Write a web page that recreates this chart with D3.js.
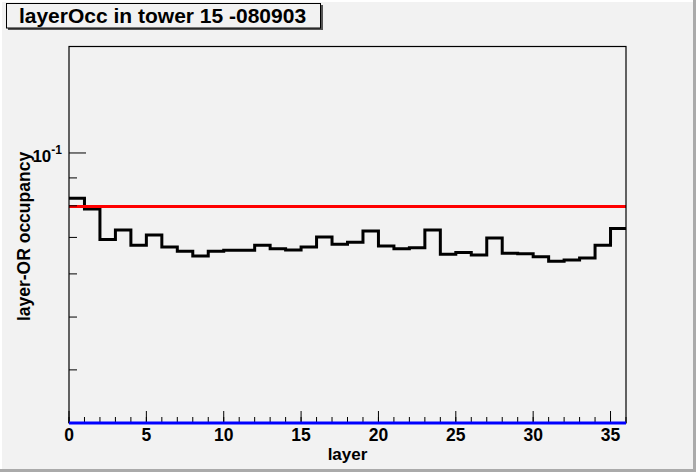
<!DOCTYPE html>
<html>
<head>
<meta charset="utf-8">
<script src="https://cdn.jsdelivr.net/npm/d3@7/dist/d3.min.js"></script>
<style>
html,body{margin:0;padding:0;background:#f2f2f2;}
svg{display:block;}
text{font-family:"Liberation Sans",Arial,Helvetica,sans-serif;font-weight:bold;fill:#000;}
</style>
</head>
<body>
<script>
// ---- data ----
const titleText = "layerOcc in tower 15 -080903";
const xLabel = "layer";
const yLabel = "layer-OR occupancy";
const layers = d3.range(36); // bin lower edges 0..35
const occupancy = [
  0.0826, 0.0789, 0.0694, 0.0722, 0.0677, 0.0707, 0.0672, 0.0660, 0.0647, 0.0660,
  0.0663, 0.0663, 0.0677, 0.0667, 0.0664, 0.0672, 0.0701, 0.0680, 0.0686, 0.0719,
  0.0675, 0.0667, 0.0670, 0.0722, 0.0652, 0.0657, 0.0650, 0.0698, 0.0655, 0.0653,
  0.0645, 0.0633, 0.0636, 0.0642, 0.0677, 0.0727
];
const redLevel = 0.0798;
const yDomain = [0.03196, 0.1568];
const xDomain = [0, 36];
const xMajorTicks = [0, 5, 10, 15, 20, 25, 30, 35];
const xMinorTicks = d3.range(0, 37, 1);
const yMajorTicks = [0.1];
const yMinorTicks = [0.04, 0.05, 0.06, 0.07, 0.08, 0.09];

// ---- layout ----
const W = 696, H = 472;
const fx0 = 69, fx1 = 626, fy0 = 46.5, fy1 = 423;

const svg = d3.select("body").append("svg").attr("width", W).attr("height", H);

// canvas
svg.append("rect").attr("x",0).attr("y",0).attr("width",W).attr("height",H).attr("fill","#f2f2f2");
// bevel
svg.append("rect").attr("x",0).attr("y",0).attr("width",W).attr("height",2).attr("fill","#ffffff");
svg.append("rect").attr("x",0).attr("y",0).attr("width",2).attr("height",H).attr("fill","#ffffff");
svg.append("rect").attr("x",W-3).attr("y",0).attr("width",3).attr("height",H).attr("fill","#aaaaaa");
svg.append("rect").attr("x",0).attr("y",H-3).attr("width",W).attr("height",3).attr("fill","#aaaaaa");

const x = d3.scaleLinear().domain(xDomain).range([fx0, fx1]);
const y = d3.scaleLog().domain(yDomain).range([fy1, fy0]);

// histogram steps
const pts = [];
layers.forEach((l, i) => {
  pts.push([x(l), y(occupancy[i])]);
  pts.push([x(l + 1), y(occupancy[i])]);
});

svg.append("path")
  .attr("d", d3.line()(pts))
  .attr("fill","none").attr("stroke","#000").attr("stroke-width",3)
  .attr("stroke-linejoin","miter").attr("stroke-linecap","butt");

// red line
svg.append("line").attr("x1",x(xDomain[0])).attr("x2",x(xDomain[1]))
  .attr("y1",y(redLevel)).attr("y2",y(redLevel))
  .attr("stroke","#ff0000").attr("stroke-width",3);

// frame
svg.append("rect").attr("x",fx0).attr("y",fy0).attr("width",fx1-fx0).attr("height",fy1-fy0)
  .attr("fill","none").attr("stroke","#000").attr("stroke-width",1.2);

// x ticks
svg.selectAll(".xmin").data(xMinorTicks).enter().append("line")
  .attr("x1",d=>x(d)).attr("x2",d=>x(d)).attr("y1",fy1).attr("y2",fy1-6)
  .attr("stroke","#000").attr("stroke-width",1);
svg.selectAll(".xmaj").data(xMajorTicks).enter().append("line")
  .attr("x1",d=>x(d)).attr("x2",d=>x(d)).attr("y1",fy1).attr("y2",fy1-12)
  .attr("stroke","#000").attr("stroke-width",1);
svg.selectAll(".xlab").data(xMajorTicks).enter().append("text")
  .attr("x",d=>x(d)).attr("y",441).attr("text-anchor","middle")
  .attr("font-size",17.5).text(d=>d);

// blue line at bottom
svg.append("line").attr("x1",x(xDomain[0])).attr("x2",x(xDomain[1]))
  .attr("y1",y(yDomain[0])).attr("y2",y(yDomain[0]))
  .attr("stroke","#0000ff").attr("stroke-width",3);

// y ticks
svg.selectAll(".ymin").data(yMinorTicks).enter().append("line")
  .attr("x1",fx0).attr("x2",fx0+8).attr("y1",d=>y(d)).attr("y2",d=>y(d))
  .attr("stroke","#000").attr("stroke-width",1);
svg.selectAll(".ymaj").data(yMajorTicks).enter().append("line")
  .attr("x1",fx0).attr("x2",fx0+17).attr("y1",d=>y(d)).attr("y2",d=>y(d))
  .attr("stroke","#000").attr("stroke-width",1);
yMajorTicks.forEach(v => {
  const t = svg.append("text").attr("x",62).attr("y",y(v)+9).attr("text-anchor","end").attr("font-size",17);
  t.append("tspan").text("10");
  t.append("tspan").attr("dy",-8).attr("font-size",12).text("-" + Math.round(-Math.log10(v)));
});

// axis titles
svg.append("text").attr("x",(fx0+fx1)/2).attr("y",460).attr("text-anchor","middle")
  .attr("font-size",17).text(xLabel);
svg.append("text").attr("transform","translate(30,236.5) rotate(-90)").attr("text-anchor","middle")
  .attr("font-size",17.5).text(yLabel);

// title box
svg.append("rect").attr("x",8).attr("y",5).attr("width",315).attr("height",25).attr("fill","#555");
svg.append("rect").attr("x",6.5).attr("y",3.5).attr("width",314).attr("height",24.5)
  .attr("fill","#f2f2f2").attr("stroke","#000").attr("stroke-width",1);
svg.append("text").attr("x",162.5).attr("y",23).attr("text-anchor","middle")
  .attr("font-size",21).text(titleText);
</script>
</body>
</html>
